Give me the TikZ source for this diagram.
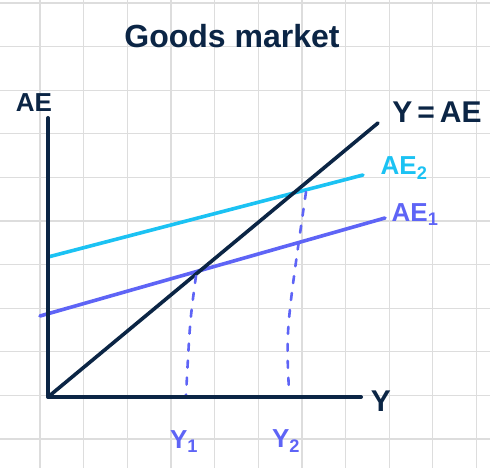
\documentclass[tikz,border=0pt]{standalone}
\usepackage{fontspec}
\setmainfont{Liberation Sans}
\definecolor{navy}{HTML}{0B2545}
\definecolor{cyanl}{HTML}{1BC2F3}
\definecolor{bluel}{HTML}{5E64F6}
\definecolor{gridc}{HTML}{DDDDDD}
\begin{document}
\begin{tikzpicture}[x=1pt,y=-1pt,
  axis/.style={navy,line width=4pt,line cap=round,line join=round},
  curve/.style={line width=3.6pt,line cap=round},
  dashv/.style={bluel,line width=2.6pt,line cap=round,dash pattern=on 7pt off 10pt},
  lab/.style={inner sep=0pt,font=\bfseries\fontsize{26}{26}\selectfont}]
\useasboundingbox (0,0) rectangle (490,468);
\fill[white] (0,0) rectangle (490,468);
% grid
\foreach \i in {0,...,10} {
  \draw[gridc,line width=1.2pt] ({40+43.65*\i},0) -- ({40+43.65*\i},468);
  \draw[gridc,line width=1.2pt] (0,{3+43.6*\i}) -- (490,{3+43.6*\i});
}
% coordinates
\coordinate (O) at (48,397);
\coordinate (ytop) at (48,118);
\coordinate (xend) at (361,397);
\coordinate (d1) at (48,397);
\coordinate (d2) at (378,123);
\coordinate (a2s) at (48,257);
\coordinate (a2e) at (363,175);
\coordinate (a1s) at (40,316);
\coordinate (a1e) at (385,218);
\coordinate (y1t) at (196,276);
\coordinate (y1b) at (186,395);
\coordinate (y2t) at (306,192);
\coordinate (y2b) at (289,391);
% lines
\draw[curve,bluel] (a1s) -- (a1e);
\draw[curve,cyanl] (a2s) -- (a2e);
\draw[curve,navy] (d1) -- (d2);
\draw[dashv] (y1t) .. controls (190,320) .. (y1b);
\draw[dashv] (y2t) .. controls (286,330) .. (y2b);
\draw[axis] (ytop) -- (O) -- (xend);
% labels
\node[lab,navy,font=\bfseries\fontsize{32}{32}\selectfont] (title) at (232,36) {Goods market};
\node[lab,navy] (lae) at (34,103) {AE};
\node[lab,navy,font=\bfseries\fontsize{30}{30}\selectfont] (lyae) at (437,112) {Y\,=\,AE};
\node[lab,cyanl] (lae2) at (404,168) {AE\textsubscript{2}};
\node[lab,bluel] (lae1) at (415,215) {AE\textsubscript{1}};
\node[lab,navy,font=\bfseries\fontsize{30}{30}\selectfont] (ly) at (381,401) {Y};
\node[lab,bluel] (ly1) at (184,442) {Y\textsubscript{1}};
\node[lab,bluel] (ly2) at (286,441) {Y\textsubscript{2}};
\end{tikzpicture}
\end{document}
